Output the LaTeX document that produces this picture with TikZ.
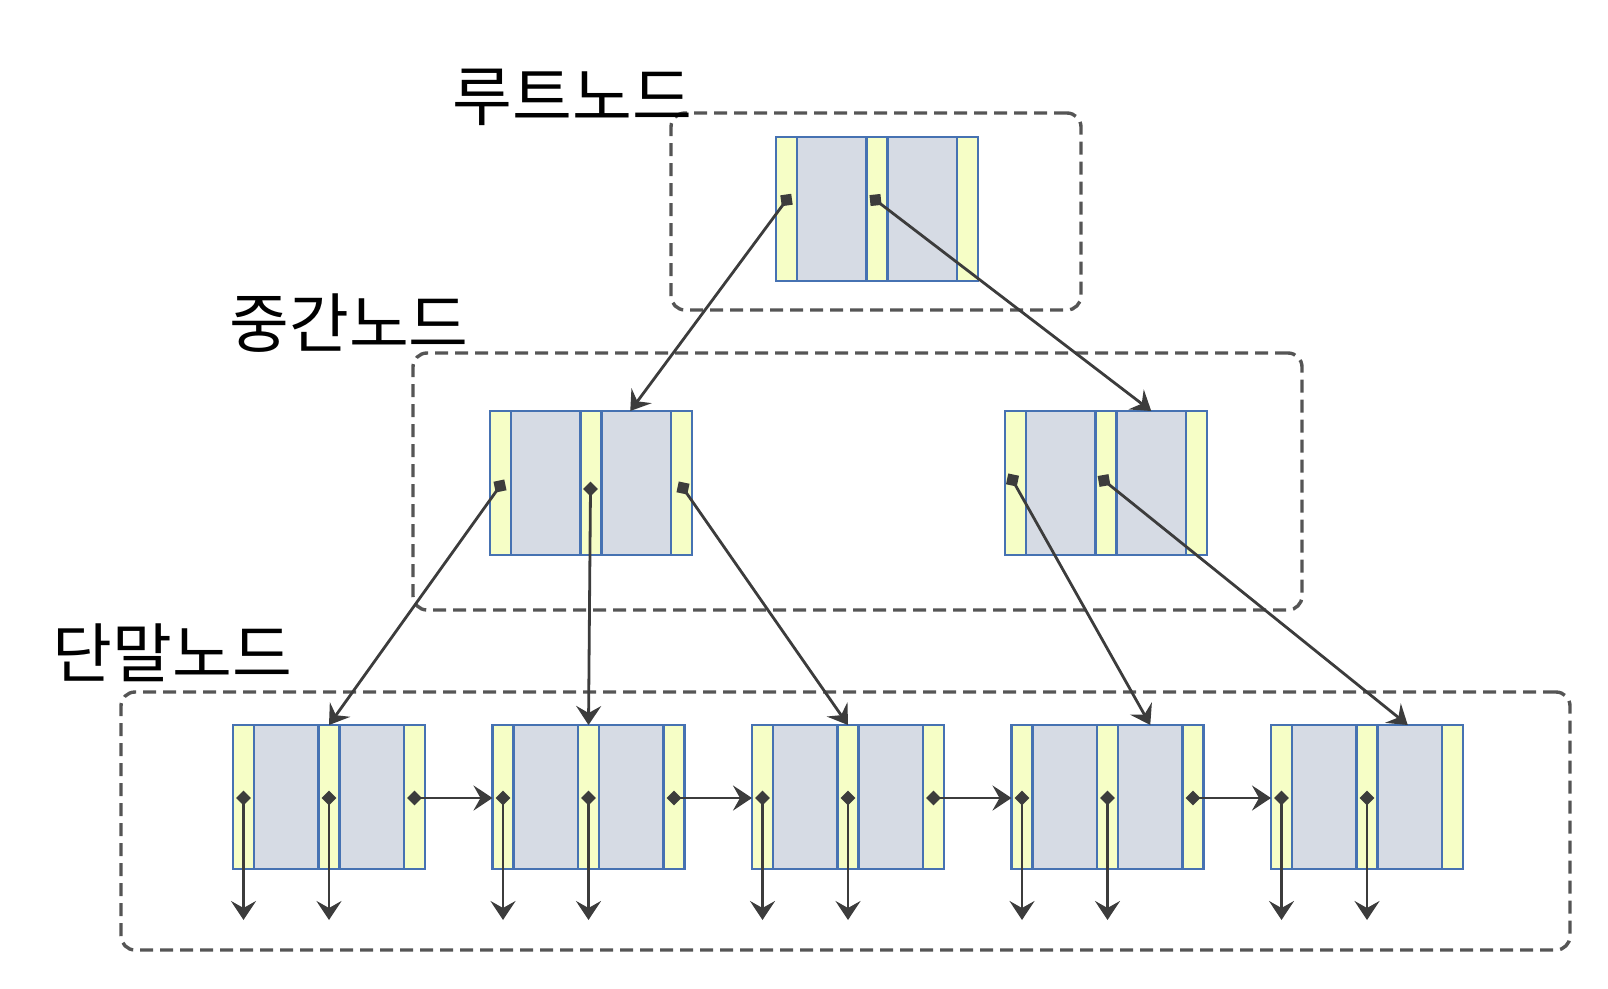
\documentclass[tikz,border=0pt]{standalone}
\usepackage{fontspec}
\newfontfamily\krfont{Noto Sans CJK KR}
\usepackage{tikz}
\usetikzlibrary{arrows.meta,positioning,fit}
\usepackage{xcolor}
\definecolor{cPtr}{RGB}{246,254,198}
\definecolor{cKey}{RGB}{214,219,228}
\definecolor{cEdge}{RGB}{70,114,178}
\definecolor{cLine}{RGB}{60,60,60}
\definecolor{cGroup}{RGB}{85,85,85}
\tikzset{
  cellbox/.style={rectangle,draw=cEdge,line width=2.6pt,inner sep=0pt,
                  outer sep=0pt,minimum height=144pt},
  ptrcell/.style={cellbox,fill=cPtr,minimum width=21pt},
  keycell/.style={cellbox,fill=cKey},
  grpbox/.style={rectangle,rounded corners=14pt,draw=cGroup,line width=3.4pt,
                 dash pattern=on 13pt off 7pt,inner sep=0pt},
  lvllabel/.style={font=\krfont\fontsize{65}{65}\selectfont,inner sep=0pt},
  sqmark/.style={rectangle,fill=cLine,minimum size=11pt,inner sep=0pt},
  dmmark/.style={sqmark,minimum size=10.5pt,rotate=45},
  arr/.style={-{Stealth[length=19pt,width=25pt,inset=7pt]},line width=2.8pt,
              draw=cLine,fill=cLine}
}
\newcommand{\bnode}[4]{%
  \node[ptrcell,anchor=north west] (#1-p1) at (#2,#3) {};
  \node[keycell,minimum width=#4,right=0pt of #1-p1] (#1-k1) {};
  \node[ptrcell,right=0pt of #1-k1] (#1-p2) {};
  \node[keycell,minimum width=#4,right=0pt of #1-p2] (#1-k2) {};
  \node[ptrcell,right=0pt of #1-k2] (#1-p3) {};
}
\begin{document}
\begin{tikzpicture}[x=1pt,y=-1pt]
  \useasboundingbox (0,0) rectangle (1608,988);

  \node[grpbox,fit={(671,113) (1081,310)}] (rootgrp) {};
  \node[grpbox,fit={(413,353) (1302,610)}] (midgrp) {};
  \node[grpbox,fit={(121,692) (1570,950)}] (leafgrp) {};

  \node[lvllabel] (rootlbl) at (572.5,97.5) {루트노드};
  \node[lvllabel] (midlbl) at (349,323) {중간노드};
  \node[lvllabel] (leaflbl) at (172.5,653) {단말노드};

  \bnode{root}{776}{137}{69.5pt}
  \bnode{midL}{490}{411}{69.5pt}
  \bnode{midR}{1005}{411}{69.5pt}
  \foreach \i/\x in {1/233,2/492.5,3/752,4/1011.5,5/1271}
    {\bnode{leaf\i}{\x}{725}{64.5pt}}

  \coordinate (bot) at (0,920);
  \coordinate (rowr) at (0,200);
  \coordinate (rowl) at (0,798);

  \node[sqmark,rotate=8] (root-m1) at (root-p1 |- rowr) {};
  \node[sqmark,rotate=6] (root-m2) at ([xshift=-1.5pt]root-p2 |- rowr) {};
  \node[sqmark,rotate=12] (midL-m1) at (500,486) {};
  \node[dmmark] (midL-m2) at (590.5,489) {};
  \node[sqmark,rotate=-12] (midL-m3) at (683,488) {};
  \node[sqmark,rotate=-12] (midR-m1) at (1012.5,480) {};
  \node[sqmark,rotate=10] (midR-m2) at (1104,480.5) {};
  \foreach \i in {1,...,5}{
    \node[dmmark] (leaf\i-m1) at (leaf\i-p1 |- rowl) {};
    \node[dmmark] (leaf\i-m2) at (leaf\i-p2 |- rowl) {};
  }
  \foreach \i in {1,...,4}
    \node[dmmark] (leaf\i-m3) at (leaf\i-p3 |- rowl) {};

  \draw[arr] (root-m1.center) -- ([xshift=-6pt]midL-k2.north);
  \draw[arr] (root-m2.center) -- (midR-k2.north);

  \draw[arr] (midL-m1.center) -- (leaf1-p2.north);
  \draw[arr] (midL-m2.center) -- (leaf2-p2.north);
  \draw[arr] (midL-m3.center) -- (leaf3-p2.north);
  \draw[arr] (midR-m1.center) -- (leaf4-k2.north);
  \draw[arr] (midR-m2.center) -- ([xshift=-2pt]leaf5-k2.north);

  \foreach \i in {1,...,5}{
    \draw[arr] (leaf\i-m1.center) -- (leaf\i-m1 |- bot);
    \draw[arr] (leaf\i-m2.center) -- (leaf\i-m2 |- bot);
  }
  \foreach \i/\j in {1/2,2/3,3/4,4/5}
    \draw[arr] (leaf\i-m3.center) -- (leaf\j-p1.west |- rowl);

\end{tikzpicture}
\end{document}
